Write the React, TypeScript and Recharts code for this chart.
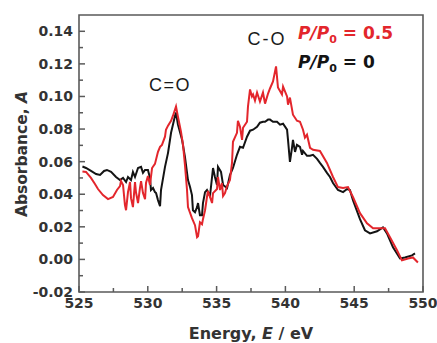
import React from 'react';
import { LineChart, Line, XAxis, YAxis, ReferenceArea } from 'recharts';

// P/P0 = 0 (black)
const blackEnergy = [
  525.25, 525.51, 525.87, 526.24, 526.53, 526.82, 527.03, 527.33, 527.69, 527.98,
  528.2, 528.42, 528.56, 528.78, 528.92, 529.07, 529.29, 529.51, 529.65, 529.8,
  530.01, 530.16, 530.23, 530.38, 530.52, 530.6, 530.74, 530.89, 530.96, 531.25,
  531.47, 531.69, 531.98, 532.05, 532.19, 532.49, 532.7, 532.92, 533.07, 533.21,
  533.28, 533.43, 533.58, 533.65, 533.79, 533.94, 534.01, 534.16, 534.3, 534.52,
  534.74, 534.88, 535.03, 535.1, 535.32, 535.47, 535.76, 535.97, 536.19, 536.48,
  536.7, 536.92, 537.21, 537.43, 537.65, 537.94, 538.15, 538.37, 538.52, 538.74,
  538.88, 539.1, 539.39, 539.61, 539.83, 540.12, 540.19, 540.33, 540.48, 540.55,
  540.7, 540.84, 541.06, 541.21, 541.28, 541.57, 541.79, 542.01, 542.3, 542.51,
  542.73, 543.02, 543.24, 543.46, 543.82, 544.19, 544.48, 544.69, 544.91, 545.42,
  545.78, 546.15, 546.66, 547.09, 547.38, 547.82, 548.33, 548.69, 549.2, 549.42,
];
const blackAbs = [
  0.057, 0.0561, 0.0543, 0.0524, 0.0518, 0.0543, 0.0549, 0.0537, 0.0506, 0.0487,
  0.05, 0.0475, 0.0506, 0.0487, 0.0537, 0.0506, 0.0561, 0.0568, 0.0531, 0.0549,
  0.0549, 0.05, 0.0426, 0.0438, 0.0413, 0.0407, 0.0364, 0.0327, 0.0426, 0.0568,
  0.0654, 0.0777, 0.0882, 0.0901, 0.0827, 0.0734, 0.0629, 0.0487, 0.0444, 0.0395,
  0.0302, 0.029, 0.0321, 0.0346, 0.0271, 0.0271, 0.0346, 0.0413, 0.0426, 0.0389,
  0.0561, 0.0506, 0.0457, 0.0568, 0.0537, 0.0457, 0.0438, 0.0518, 0.0561, 0.0642,
  0.0691, 0.0685, 0.0753, 0.079, 0.0796, 0.0814, 0.0839, 0.0845, 0.0845, 0.0858,
  0.0858, 0.0845, 0.0845, 0.0827, 0.0833, 0.0796, 0.0734, 0.0598, 0.0685, 0.0734,
  0.066, 0.0703, 0.0691, 0.0642, 0.0666, 0.0636, 0.0636, 0.0642, 0.0617, 0.0592,
  0.0568, 0.0531, 0.0506, 0.0469, 0.0426, 0.0413, 0.0432, 0.0426, 0.0364, 0.0247,
  0.0179, 0.016, 0.0173, 0.0197, 0.016, 0.0074, 0.0006, 0.0012, 0.0025, 0.0037,
];

// P/P0 = 0.5 (red)
const redEnergy = [
  525.25, 525.51, 525.87, 526.16, 526.38, 526.74, 527.11, 527.47, 527.76, 527.98,
  528.05, 528.2, 528.34, 528.42, 528.56, 528.71, 528.78, 528.92, 529.07, 529.14,
  529.29, 529.43, 529.51, 529.65, 529.8, 529.87, 530.01, 530.16, 530.31, 530.52,
  530.74, 530.89, 531.03, 531.25, 531.32, 531.47, 531.69, 531.83, 532.05, 532.19,
  532.41, 532.56, 532.7, 532.85, 532.92, 533.21, 533.43, 533.58, 533.65, 533.79,
  533.94, 534.01, 534.16, 534.3, 534.37, 534.52, 534.67, 534.74, 535.03, 535.1,
  535.25, 535.39, 535.47, 535.61, 535.76, 535.97, 536.12, 536.19, 536.48, 536.55,
  536.7, 536.85, 536.92, 537.21, 537.28, 537.43, 537.57, 537.65, 537.79, 537.94,
  538.15, 538.37, 538.52, 538.74, 538.88, 539.1, 539.32, 539.46, 539.75, 539.83,
  540.12, 540.19, 540.33, 540.55, 540.84, 541.06, 541.28, 541.42, 541.57, 541.79,
  542.01, 542.51, 543.02, 543.46, 543.82, 544.19, 544.55, 544.91, 545.42, 545.93,
  546.37, 546.87, 547.24, 547.6, 548.11, 548.47, 548.91, 549.27, 549.63,
];
const redAbs = [
  0.054, 0.0537, 0.05, 0.0463, 0.0432, 0.0395, 0.037, 0.0383, 0.0426, 0.045,
  0.0481, 0.0457, 0.0333, 0.0302, 0.0413, 0.0475, 0.0376, 0.0321, 0.0475, 0.0413,
  0.0346, 0.0438, 0.0481, 0.0407, 0.037, 0.0469, 0.0512, 0.0457, 0.0561, 0.0586,
  0.066, 0.0691, 0.0703, 0.0753, 0.0796, 0.0821, 0.0851, 0.0882, 0.0938, 0.0876,
  0.0784, 0.0703, 0.058, 0.0426, 0.0321, 0.0253, 0.021, 0.0136, 0.0142, 0.0228,
  0.0216, 0.0247, 0.0302, 0.0383, 0.042, 0.0383, 0.0346, 0.0407, 0.0432, 0.0506,
  0.0426, 0.0469, 0.0389, 0.0407, 0.045, 0.0487, 0.0592, 0.0722, 0.0777, 0.0851,
  0.0814, 0.0734, 0.0808, 0.0845, 0.0938, 0.1043, 0.1, 0.1012, 0.0975, 0.1024,
  0.0969, 0.1024, 0.0956, 0.1018, 0.1049, 0.1092, 0.1185, 0.1055, 0.1012, 0.1061,
  0.1, 0.095, 0.0993, 0.0888, 0.0851, 0.0845, 0.0796, 0.0747, 0.0765, 0.0685,
  0.0673, 0.0666, 0.0592, 0.0506, 0.0444, 0.0438, 0.0444, 0.0383, 0.0284, 0.0222,
  0.0191, 0.0191, 0.0191, 0.0136, 0.0056, -0.0006, 0.0006, 0.0012, -0.0019,
];

const energyMajor = [525, 530, 535, 540, 545, 550];
const energyMinor = [527.5, 532.5, 537.5, 542.5, 547.5];
const absMajor = [-0.02, 0, 0.02, 0.04, 0.06, 0.08, 0.1, 0.12, 0.14];
const absMinor = [-0.01, 0.01, 0.03, 0.05, 0.07, 0.09, 0.11, 0.13];

const blackData = blackEnergy.map((e, i) => ({ e, a: blackAbs[i] }));
const redData = redEnergy.map((e, i) => ({ e, a: redAbs[i] }));

const AXIS = '#5a5a5a';
const LABEL = '#333';
const RED = '#e3262c';
const BLACK = '#141414';
const FONT = '"DejaVu Sans", sans-serif';
const ANNOT_FONT = '"Liberation Sans", Arial, sans-serif';

const isMajor = (list: number[], v: number) => list.some((m) => Math.abs(m - v) < 1e-6);

const XTick = (props: any) => {
  const { x, y, payload } = props;
  const major = isMajor(energyMajor, payload.value);
  return (
    <g>
      <line x1={x} y1={y} x2={x} y2={y - (major ? 6 : 4)} stroke={AXIS} strokeWidth={1.5} />
      {major && (
        <text x={x} y={y + 16} textAnchor="middle" fontFamily={FONT} fontWeight="bold" fontSize={14} fill={LABEL}>
          {payload.value}
        </text>
      )}
    </g>
  );
};

const YTick = (props: any) => {
  const { x, y, payload } = props;
  const major = isMajor(absMajor, payload.value);
  return (
    <g>
      <line x1={x} y1={y} x2={x + (major ? 6 : 4)} y2={y} stroke={AXIS} strokeWidth={1.5} />
      {major && (
        <text x={x - 6} y={y + 5} textAnchor="end" fontFamily={FONT} fontWeight="bold" fontSize={14} fill={LABEL}>
          {payload.value.toFixed(2)}
        </text>
      )}
    </g>
  );
};

export default function App() {
  return (
    <div style={{ position: 'absolute', left: 0, top: 0, width: 437, height: 343, background: '#fff' }}>
      <LineChart width={437} height={343} margin={{ top: 15, right: 14, bottom: 50, left: 78 }}>
        <XAxis
          type="number"
          dataKey="e"
          domain={[525, 550]}
          ticks={[...energyMajor, ...energyMinor].sort((a, b) => a - b)}
          interval={0}
          height={1}
          tickSize={0}
          tickMargin={0}
          tickLine={false}
          axisLine={false}
          tick={XTick}
        />
        <YAxis
          type="number"
          domain={[-0.02, 0.15]}
          ticks={[...absMajor, ...absMinor].sort((a, b) => a - b)}
          interval={0}
          width={1}
          tickSize={0}
          tickMargin={0}
          tickLine={false}
          axisLine={false}
          tick={YTick}
        />
        <ReferenceArea x1={525} x2={550} y1={-0.02} y2={0.15} fill="none" stroke={AXIS} strokeWidth={1.6} fillOpacity={0} />
        <Line data={blackData} dataKey="a" stroke={BLACK} strokeWidth={2} dot={false} isAnimationActive={false} />
        <Line data={redData} dataKey="a" stroke={RED} strokeWidth={2} dot={false} isAnimationActive={false} />
      </LineChart>
      <svg width={437} height={343} style={{ position: 'absolute', left: 0, top: 0, pointerEvents: 'none' }}>
        <text x={170} y={91} textAnchor="middle" fontFamily={ANNOT_FONT} fontSize={18} letterSpacing={1.5} fill="#1a1a1a">
          C=O
        </text>
        <text x={267} y={45} textAnchor="middle" fontFamily={ANNOT_FONT} fontSize={18} letterSpacing={2} fill="#1a1a1a">
          C-O
        </text>
        <text x={298} y={39} fontFamily={FONT} fontWeight="bold" fontSize={17} fill={RED}>
          <tspan fontStyle="italic">P/P</tspan>
          <tspan fontSize={11} dy={4}>0</tspan>
          <tspan dy={-4}> = 0.5</tspan>
        </text>
        <text x={298} y={68} fontFamily={FONT} fontWeight="bold" fontSize={17} fill={BLACK}>
          <tspan fontStyle="italic">P/P</tspan>
          <tspan fontSize={11} dy={4}>0</tspan>
          <tspan dy={-4}> = 0</tspan>
        </text>
        <text x={251} y={339} textAnchor="middle" fontFamily={FONT} fontWeight="bold" fontSize={16} fill={LABEL}>
          Energy, <tspan fontStyle="italic">E</tspan> / eV
        </text>
        <text
          transform="translate(27,154) rotate(-90)"
          textAnchor="middle"
          fontFamily={FONT}
          fontWeight="bold"
          fontSize={15.5}
          fill={LABEL}
        >
          Absorbance, <tspan fontStyle="italic">A</tspan>
        </text>
      </svg>
    </div>
  );
}
